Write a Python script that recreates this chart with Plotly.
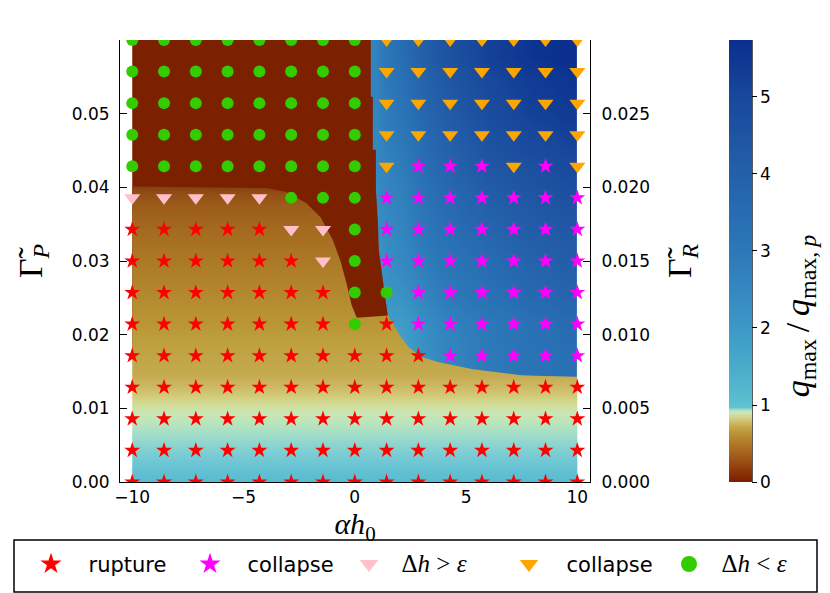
import plotly.graph_objects as go

# ---------------- data ----------------
# parameter grid of the simulations (alpha*h0 , Gamma_P)
x_cols = [-10.0, -8.571, -7.143, -5.714, -4.286, -2.857, -1.429, 0.0,
          1.429, 2.857, 4.286, 5.714, 7.143, 8.571, 10.0]
y_rows = [0.0, 0.00429, 0.00857, 0.01286, 0.01714, 0.02143, 0.02571, 0.03,
          0.03429, 0.03857, 0.04286, 0.04714, 0.05143, 0.05571, 0.06]
# outcome per grid point, bottom row first
# R = rupture (star), M = collapse (star), P = dh>eps (triangle), O = collapse (triangle), G = dh<eps (circle)
regime_rows = [
    "RRRRRRRRRRRRRRR",
    "RRRRRRRRRRRRRRR",
    "RRRRRRRRRRRRRRR",
    "RRRRRRRRRRRRRRR",
    "RRRRRRRRRRMMMMM",
    "RRRRRRRGRMMMMMM",
    "RRRRRRRGGMMMMMM",
    "RRRRRRPGMMMMMMM",
    "RRRRRPPGMMMMMMM",
    "PPPPPGGGMMMMMMM",
    "GGGGGGGGOMMMOMO",
    "GGGGGGGGOOOOOOO",
    "GGGGGGGGOOOOOOO",
    "GGGGGGGGOOOOOOO",
    "GGGGGGGGOOOOOOO",
]

# colour scale of q_max / q_max,p
z_max = 5.74
cb_vals = [0.0, 0.15, 0.3, 0.45, 0.6, 0.72, 0.82, 0.9, 0.935, 0.97, 1.2, 1.6,
           2.0, 2.5, 3.0, 3.5, 4.0, 4.5, 5.0, 5.74]
cb_cols = ['#7a1f00', '#8f380a', '#9e5418', '#ac7024', '#b98c32', '#c6a84a',
           '#d4cc80', '#cfe6b6', '#a6e0cc', '#62c2d2', '#55b7ce', '#47a7ca',
           '#3c98c6', '#3488c0', '#2c78b8', '#276cb2', '#2460aa', '#1e54a2',
           '#18489c', '#0a2f8e']

# field in the collapse region (cell edges and values)
field_x_edges = [0.5, 1.5, 3.0, 5.0, 7.0, 9.0, 10.0]
field_y_edges = [0.012, 0.018, 0.025, 0.035, 0.045, 0.055, 0.06]
field_z = [
    [1.7, 1.8, 2.5, 2.9, 3.2, 3.3],
    [1.8, 1.9, 2.6, 3.0, 3.3, 3.5],
    [2.1, 2.5, 3.1, 3.5, 3.9, 4.1],
    [2.4, 2.8, 3.6, 4.2, 4.5, 4.7],
    [2.6, 3.2, 4.1, 4.8, 5.2, 5.4],
    [2.7, 3.5, 4.5, 5.2, 5.6, 5.74],
]

# field in the rupture region: colour against Gamma_P
tan_y = [0.0, 0.0015, 0.0030, 0.0048, 0.0065, 0.0080, 0.0094, 0.0106, 0.0117,
         0.0130, 0.0145, 0.0175, 0.0216, 0.0251, 0.0298, 0.0342, 0.0375,
         0.0390, 0.0401]
tan_c = ['#59bbd0', '#62c0d2', '#72c8d4', '#88d3d0', '#a2ddc8', '#bae5bc',
         '#c9e6b2', '#d2dc98', '#d2ca78', '#cbb862', '#c4aa50', '#c0a444',
         '#b99634', '#b48a2e', '#ac7a26', '#a46a20', '#9c5c1a', '#925014',
         '#86400e']
brown_col = '#7b2100'

# region boundaries
bt_x = [-10.0, -4.0, -3.1, -2.2, -1.53, -0.99, -0.63, -0.36, -0.14, 0.09, 1.5]
bt_y = [0.0401, 0.0399, 0.0394, 0.0379, 0.0359, 0.0329, 0.0299, 0.0268,
        0.0240, 0.0223, 0.0226]
blue_x = [0.72, 0.72, 0.81, 0.81, 0.95, 0.95, 1.04, 1.08, 1.31, 1.49, 1.62,
          2.07, 2.43, 2.97, 3.74, 4.32, 5.3, 6.26, 7.48, 8.5, 9.41, 10.0]
blue_y = [0.060, 0.0523, 0.0523, 0.0451, 0.0451, 0.0397, 0.0352, 0.0315,
          0.0265, 0.0224, 0.0220, 0.0197, 0.0183, 0.0170, 0.0163, 0.0159,
          0.0153, 0.0149, 0.0145, 0.0144, 0.0143, 0.0143]

# ---------------- figure ----------------
x_min, x_max = x_cols[0], x_cols[-1]
y_min, y_max = y_rows[0], y_rows[-1]

colorscale = [[v / z_max, c] for v, c in zip(cb_vals, cb_cols)]

fig = go.Figure()

fig.add_trace(go.Heatmap(
    x=field_x_edges, y=field_y_edges, z=field_z,
    zmin=0, zmax=z_max, colorscale=colorscale, zsmooth='best',
    hoverinfo='skip', showscale=True,
    colorbar=dict(
        x=1.296, xanchor='left', y=0.5, yanchor='middle',
        len=1, lenmode='fraction', thickness=23, xpad=0, ypad=0,
        outlinewidth=0, ticks='outside', ticklen=5, tickcolor='black',
        tickvals=[0, 1, 2, 3, 4, 5],
        tickfont=dict(family='DejaVu Sans', size=17, color='black'),
    ),
))

# brown (dh < eps) region
brown_px = [x_min] + blue_x[:11] + [blue_x[10], x_min]
brown_py = [y_max] + blue_y[:11] + [0.018, 0.018]
fig.add_trace(go.Scatter(
    x=brown_px, y=brown_py, mode='lines', fill='toself',
    fillcolor=brown_col, line=dict(width=0, color=brown_col),
    hoverinfo='skip', showlegend=False))

# rupture region with vertical gradient
tan_px = [x_min, x_max] + blue_x[::-1][:12] + bt_x[::-1]
tan_py = [y_min, y_min] + blue_y[::-1][:12] + bt_y[::-1]
fig.add_trace(go.Scatter(
    x=tan_px, y=tan_py, mode='lines', fill='toself',
    line=dict(width=0, color='rgba(0,0,0,0)'),
    fillgradient=dict(type='vertical', start=tan_y[0], stop=tan_y[-1],
                      colorscale=[[y / tan_y[-1], c] for y, c in zip(tan_y, tan_c)]),
    hoverinfo='skip', showlegend=False))

# markers
styles = {
    'R': ('rupture', 'star', '#ff0000', 12),
    'M': ('collapse', 'star', '#ff00ff', 12),
    'P': ('Δ<i>h</i> &gt; <i>ε</i>', 'triangle-down', '#ffc0cb', 14),
    'O': ('collapse', 'triangle-down', '#ffa500', 14),
    'G': ('Δ<i>h</i> &lt; <i>ε</i>', 'circle', '#33cc00', 12),
}
legend_ids = {'R': 'legend', 'M': 'legend2', 'P': 'legend3', 'O': 'legend4', 'G': 'legend5'}
for key in ['R', 'M', 'P', 'O', 'G']:
    name, sym, col, size = styles[key]
    xs, ys = [], []
    for j, row in enumerate(regime_rows):
        for i, ch in enumerate(row):
            if ch == key:
                xs.append(x_cols[i])
                ys.append(y_rows[j])
    fig.add_trace(go.Scatter(
        x=xs, y=ys, mode='markers', showlegend=False,
        marker=dict(symbol=sym, color=col, size=size, line=dict(width=0)),
        hoverinfo='skip'))
    if key in ('P', 'G'):
        label = ('<span style="font-family:Liberation Serif;font-size:25px">'
                 '\u00a0\u00a0' + name + '</span>')
    else:
        label = '\u00a0\u00a0\u2009' + name
    fig.add_trace(go.Scatter(
        x=[None], y=[None], mode='markers', name=label, legend=legend_ids[key],
        marker=dict(symbol=sym, color=col, size=18, line=dict(width=0)),
        hoverinfo='skip'))

# invisible trace for the right axis
fig.add_trace(go.Scatter(x=[x_min], y=[y_min / 2], yaxis='y2', mode='markers',
                         marker=dict(opacity=0), showlegend=False, hoverinfo='skip'))

tick_font = dict(family='DejaVu Sans', size=17, color='black')
title_font = dict(family='Liberation Serif', size=34, color='black')

legend_common = dict(orientation='h', xanchor='left', y=-0.140, yanchor='top',
                     font=dict(family='DejaVu Sans', size=21, color='black'),
                     bgcolor='rgba(0,0,0,0)', borderwidth=0)
sym_px = [52, 211, 370, 530, 690]
legend_layout = {}
for k, lid in enumerate(['legend', 'legend2', 'legend3', 'legend4', 'legend5']):
    legend_layout[lid] = dict(legend_common, x=(sym_px[k] - 21 - 120) / 470)

# the page body adds an 8 px offset, so the figure is 8 px smaller on each side
fig.update_layout(
    width=822, height=585,
    margin=dict(l=112, r=240, t=32, b=111, autoexpand=False),
    paper_bgcolor='white', plot_bgcolor='white',
    xaxis=dict(range=[-10.55, 10.57], tickvals=[-10, -5, 0, 5, 10],
               showline=True, linecolor='black', linewidth=1, mirror=False,
               showgrid=False, zeroline=False, ticks='', tickfont=tick_font,
               automargin=False,
               title=dict(text='<i>αh</i><sub>0</sub>',
                          font=dict(family='Liberation Serif', size=30, color='black'),
                          standoff=0)),
    yaxis=dict(range=[0, 0.06], tickvals=[0, 0.01, 0.02, 0.03, 0.04, 0.05],
               tickformat='.2f', showline=True, linecolor='black', linewidth=1,
               showgrid=False, zeroline=False, ticks='inside', ticklen=7,
               tickcolor='black', tickfont=tick_font, automargin=False,
               ticklabelstandoff=6,
               title=dict(text='Γ\u0303<sub><i>P</i></sub>', font=title_font, standoff=18)),
    yaxis2=dict(range=[0, 0.03], overlaying='y', side='right',
                tickvals=[0, 0.005, 0.01, 0.015, 0.02, 0.025], tickformat='.3f',
                showline=True, linecolor='black', linewidth=1, showgrid=False,
                zeroline=False, ticks='inside', ticklen=7, tickcolor='black',
                tickfont=tick_font, automargin=False, ticklabelstandoff=7,
                title=dict(text='Γ\u0303<sub><i>R</i></sub>', font=title_font, standoff=18)),
    shapes=[
        dict(type='rect', xref='paper', yref='paper',
             x0=-0.2255, x1=1.483, y0=-0.1312, y1=-0.2489,
             line=dict(color='black', width=1.5), fillcolor='rgba(0,0,0,0)'),
        dict(type='line', xref='paper', yref='paper',
             x0=1.345, x1=1.345, y0=0, y1=1,
             line=dict(color='black', width=1)),
    ],
    annotations=[
        dict(xref='paper', yref='paper', x=1.447, y=0.375, showarrow=False,
             textangle=-90, xanchor='center', yanchor='middle',
             text=('<i>q</i><sub><span style="font-size:24px">max</span></sub>'
                   '\u2009/\u2009<i>q</i><sub><span style="font-size:24px">max,\u2009<i>p</i></span></sub>'),
             font=dict(family='Liberation Serif', size=34, color='black')),
    ],
    **legend_layout,
)

fig.write_html('out.html')
